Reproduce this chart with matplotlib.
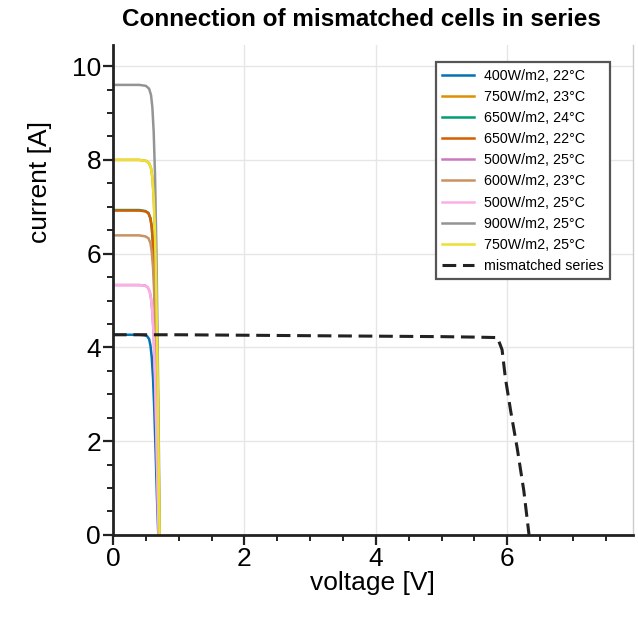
#!/usr/bin/env python3
# mismatched_cells_series.py

import matplotlib.pyplot as plt
import numpy as np

from matplotlib.ticker import MultipleLocator

labels = ["400W/m2, 22°C", "750W/m2, 23°C", "650W/m2, 24°C",
          "650W/m2, 22°C", "500W/m2, 25°C", "600W/m2, 23°C",
          "500W/m2, 25°C", "900W/m2, 25°C", "750W/m2, 25°C"]

colors = ["#0173b2", "#de8f05", "#029e73", "#d55e00", "#cc78bc",
          "#ca9161", "#fbafe4", "#949494", "#ece133"]

# voltage / current points
cell_v = [
    [0, 0.40, 0.48, 0.52, 0.55, 0.57, 0.59, 0.61, 0.63, 0.65, 0.67, 0.69],
    [0, 0.40, 0.50, 0.55, 0.58, 0.60, 0.62, 0.64, 0.66, 0.68, 0.69, 0.71],
    [0, 0.40, 0.49, 0.54, 0.57, 0.59, 0.61, 0.63, 0.65, 0.67, 0.68, 0.70],
    [0, 0.40, 0.50, 0.54, 0.57, 0.59, 0.61, 0.63, 0.65, 0.67, 0.69, 0.70],
    [0, 0.40, 0.49, 0.53, 0.56, 0.58, 0.60, 0.62, 0.64, 0.66, 0.68, 0.695],
    [0, 0.40, 0.49, 0.54, 0.57, 0.59, 0.61, 0.63, 0.65, 0.67, 0.68, 0.70],
    [0, 0.40, 0.49, 0.53, 0.56, 0.58, 0.60, 0.62, 0.64, 0.66, 0.68, 0.695],
    [0, 0.40, 0.50, 0.55, 0.58, 0.60, 0.62, 0.64, 0.66, 0.68, 0.70, 0.71],
    [0, 0.40, 0.50, 0.55, 0.58, 0.60, 0.62, 0.64, 0.66, 0.68, 0.69, 0.71],
]
cell_i = [
    [4.27, 4.27, 4.26, 4.24, 4.18, 4.05, 3.80, 3.35, 2.65, 1.75, 0.80, 0.0],
    [8.00, 8.00, 7.98, 7.93, 7.82, 7.62, 7.20, 6.45, 5.20, 3.40, 2.20, 0.0],
    [6.93, 6.93, 6.91, 6.87, 6.76, 6.58, 6.20, 5.55, 4.45, 2.90, 1.90, 0.0],
    [6.92, 6.92, 6.90, 6.86, 6.75, 6.57, 6.20, 5.55, 4.45, 2.90, 1.20, 0.0],
    [5.33, 5.33, 5.32, 5.28, 5.19, 5.04, 4.75, 4.25, 3.40, 2.20, 0.90, 0.0],
    [6.39, 6.39, 6.37, 6.33, 6.23, 6.05, 5.70, 5.10, 4.10, 2.65, 1.75, 0.0],
    [5.33, 5.33, 5.32, 5.28, 5.19, 5.04, 4.75, 4.25, 3.40, 2.20, 0.90, 0.0],
    [9.60, 9.60, 9.58, 9.52, 9.38, 9.12, 8.60, 7.70, 6.20, 4.10, 1.70, 0.0],
    [8.00, 8.00, 7.98, 7.93, 7.82, 7.62, 7.20, 6.45, 5.20, 3.40, 2.20, 0.0],
]

# series connection, limited by the weakest cell
series_v = [0, 1.0, 2.0, 3.0, 4.0, 5.0, 5.5, 5.85, 5.92, 5.97, 6.05, 6.15, 6.25, 6.33]
series_i = [4.27, 4.27, 4.26, 4.25, 4.24, 4.23, 4.22, 4.21, 3.95, 3.35, 2.65, 1.85, 0.95, 0.0]


def plot(ax):
    ax.set_title("Connection of mismatched cells in series",
                 fontsize=17.5, fontweight="bold", pad=14, x=0.477)
    ax.set_xlabel("voltage [V]", fontsize=19, labelpad=0)
    ax.set_ylabel("current [A]", fontsize=19)
    ax.yaxis.set_label_coords(-0.117, 0.72)

    for v, i, c, lab in zip(cell_v, cell_i, colors, labels):
        ax.plot(v, i, color=c, linewidth=1.8, label=lab)

    ax.plot(series_v, series_i, color="#222222", linestyle=(0, (4.5, 2.2)),
            linewidth=2.2, label="mismatched series")

    ax.set_xlim(0, 7.91)
    ax.set_ylim(0, 10.45)

    ax.xaxis.set_major_locator(MultipleLocator(2))
    ax.yaxis.set_major_locator(MultipleLocator(2))
    ax.xaxis.set_minor_locator(MultipleLocator(0.5))
    ax.yaxis.set_minor_locator(MultipleLocator(0.5))

    ax.tick_params(axis="both", which="major", direction="out", length=7,
                   width=1.6, labelsize=19, color="#222222", pad=1.5)
    ax.tick_params(axis="both", which="minor", direction="out", length=4,
                   width=1.4, color="#222222")

    ax.grid(True, which="major", color="#e6e6e6", linewidth=1.0)
    ax.set_axisbelow(True)

    for side in ("left", "bottom"):
        ax.spines[side].set_linewidth(2.0)
        ax.spines[side].set_color("#222222")
    ax.spines["top"].set_visible(False)
    ax.spines["right"].set_color("#cccccc")
    ax.spines["right"].set_linewidth(1.0)

    leg = ax.legend(loc="upper right", bbox_to_anchor=(0.956, 0.965),
                    borderaxespad=0, fontsize=10.3, labelspacing=0.5,
                    handlelength=2.2, handletextpad=0.7,
                    fancybox=False, framealpha=1.0, borderpad=0.45)
    leg.get_frame().set_edgecolor("#555555")
    leg.get_frame().set_linewidth(1.6)


def main():
    plt.rcParams["font.family"] = ["Liberation Sans", "DejaVu Sans"]
    fig = plt.figure(figsize=(6.38, 6.17), dpi=100)
    ax = fig.add_axes([0.177, 0.133, 0.815, 0.794])
    plot(ax)
    fig.savefig("out.png", dpi=100)


if __name__ == "__main__":
    main()
